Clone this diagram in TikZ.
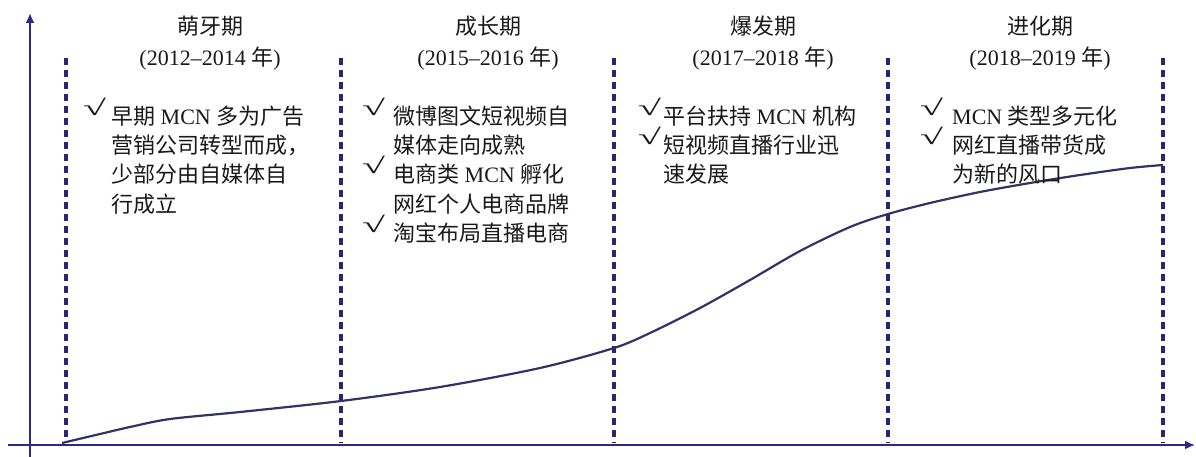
\documentclass[tikz,border=0pt]{standalone}
\usepackage{fontspec}
\usepackage{graphicx}
\setmainfont{Liberation Serif}
\newfontfamily\cjk{Noto Sans CJK SC}
\usetikzlibrary{arrows.meta}
\definecolor{axisblue}{RGB}{44,40,140}
\definecolor{dashblue}{RGB}{40,38,115}
\definecolor{curvecol}{RGB}{50,50,100}
\definecolor{txt}{RGB}{25,25,25}
\newcommand{\zh}[1]{{\cjk #1}}
\newcommand{\chkmark}{\scalebox{1.9}[1.0]{√}}
\tikzset{
  axisline/.style={draw=axisblue, line width=2.8pt, -{Latex[length=10pt,width=9pt]}},
  divline/.style={draw=dashblue, line width=3.4pt, dash pattern=on 7pt off 5pt},
  curveline/.style={draw=curvecol, line width=2.2pt},
  ttl/.style={text=txt, inner sep=0pt, anchor=base, font=\fontsize{22}{26}\selectfont},
  ln/.style={text=txt, inner sep=0pt, anchor=base west, font=\fontsize{22}{26}\selectfont},
  chk/.style={text=txt, inner sep=0pt, anchor=base west, font=\fontsize{22}{26}\selectfont}
}
\begin{document}
\begin{tikzpicture}[x=1pt,y=-1pt]
\useasboundingbox (0,0) rectangle (1196,457);
% axes
\coordinate (yb) at (30,457);
\coordinate (yt) at (30,13);
\coordinate (xl) at (8,445);
\coordinate (xr) at (1195,445);
\draw[axisline] (yb) -- (yt);
\draw[axisline] (xl) -- (xr);
% dashed dividers
\foreach \n/\x in {d1/66,d2/341,d3/614,d4/888,d5/1163}{
  \coordinate (\n t) at (\x,58);
  \coordinate (\n b) at (\x,443);
  \draw[divline] (\n t) -- (\n b);
}
% growth curve
\draw[curveline] plot[smooth, tension=0.5] coordinates {
 (62,443) (100,434) (130,427) (170,419) (240,412) (341,401) (440,387) (540,368) (614,348)
 (650,333) (700,308) (750,280) (800,251) (850,227) (888,214) (930,203) (980,192) (1030,183)
 (1080,175) (1130,168) (1163,165)};
% titles
\node[ttl] (t1) at (210,35) {\zh{萌牙期}};
\node[ttl] (y1) at (210,66) {(2012–2014 \zh{年})};
\node[ttl] (t2) at (488,35) {\zh{成长期}};
\node[ttl] (y2) at (488,66) {(2015–2016 \zh{年})};
\node[ttl] (t3) at (763,35) {\zh{爆发期}};
\node[ttl] (y3) at (763,66) {(2017–2018 \zh{年})};
\node[ttl] (t4) at (1040,35) {\zh{进化期}};
\node[ttl] (y4) at (1040,66) {(2018–2019 \zh{年})};
% block 1
\node[chk] (c11) at (83,116) {\chkmark};
\node[ln] (a11) at (111,125) {\zh{早期} MCN \zh{多为广告}};
\node[ln] (a12) at (111,154) {\zh{营销公司转型而成，}};
\node[ln] (a13) at (111,183) {\zh{少部分由自媒体自}};
\node[ln] (a14) at (111,212) {\zh{行成立}};
% block 2
\node[chk] (c21) at (362,116) {\chkmark};
\node[ln] (b11) at (393,125) {\zh{微博图文短视频自}};
\node[ln] (b12) at (393,154) {\zh{媒体走向成熟}};
\node[chk] (c22) at (362,174) {\chkmark};
\node[ln] (b21) at (393,183) {\zh{电商类} MCN \zh{孵化}};
\node[ln] (b22) at (393,212) {\zh{网红个人电商品牌}};
\node[chk] (c23) at (362,232) {\chkmark};
\node[ln] (b31) at (393,241) {\zh{淘宝布局直播电商}};
% block 3
\node[chk] (c31) at (638,116) {\chkmark};
\node[ln] (e11) at (663,125) {\zh{平台扶持} MCN \zh{机构}};
\node[chk] (c32) at (638,145) {\chkmark};
\node[ln] (e21) at (663,154) {\zh{短视频直播行业迅}};
\node[ln] (e22) at (663,183) {\zh{速发展}};
% block 4
\node[chk] (c41) at (920,116) {\chkmark};
\node[ln] (f11) at (952,125) {MCN \zh{类型多元化}};
\node[chk] (c42) at (920,145) {\chkmark};
\node[ln] (f21) at (952,154) {\zh{网红直播带货成}};
\node[ln] (f22) at (952,183) {\zh{为新的风口}};
\end{tikzpicture}
\end{document}
